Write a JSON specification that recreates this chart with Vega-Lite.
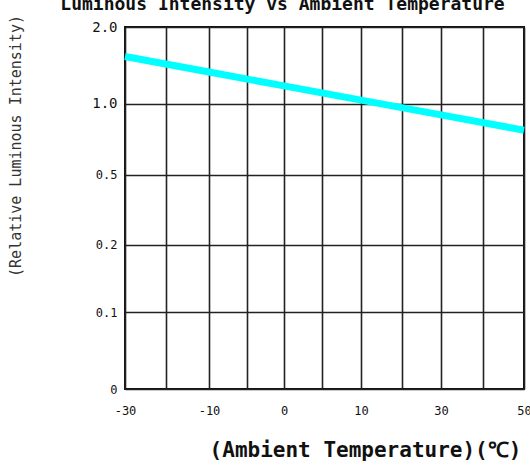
{
  "$schema": "https://vega.github.io/schema/vega-lite/v6.json",
  "autosize": {"type": "none"},
  "padding": {"left": 125, "top": 27, "right": 6, "bottom": 81},
  "width": 399,
  "height": 362,
  "background": "white",
  "title": {
    "text": "Luminous Intensity vs Ambient Temperature",
    "font": "DejaVu Sans Mono",
    "fontSize": 18,
    "fontWeight": "bold",
    "color": "#111",
    "anchor": "middle",
    "frame": "group",
    "baseline": "alphabetic",
    "offset": -13,
    "dx": -42
  },
  "data": {
    "values": [
      {"temp": -30, "intensity": 1.614},
      {"temp": -10, "intensity": 1.412},
      {"temp": 0, "intensity": 1.23},
      {"temp": 10, "intensity": 1.044},
      {"temp": 30, "intensity": 0.92},
      {"temp": 50, "intensity": 0.812}
    ]
  },
  "mark": {"type": "line", "color": "#00FFFF", "strokeWidth": 7, "strokeCap": "butt"},
  "encoding": {
    "x": {
      "field": "temp",
      "type": "quantitative",
      "scale": {
        "domain": [-30, -20, -10, -5, 0, 5, 10, 20, 30, 40, 50],
        "range": [0, 41, 84, 122, 159, 197, 236, 277, 316, 358, 399],
        "nice": false,
        "zero": false
      },
      "axis": {
        "values": [-30, -20, -10, -5, 0, 5, 10, 20, 30, 40, 50],
        "labelExpr": "(datum.value == -30 || datum.value == -10 || datum.value == 0 || datum.value == 10 || datum.value == 30 || datum.value == 50) ? '' + datum.value : ''",
        "labelFont": "DejaVu Sans Mono",
        "labelFontSize": 12,
        "labelColor": "#111",
        "labelPadding": 16,
        "labelOverlap": false,
        "labelBound": false,
        "labelFlush": false,
        "ticks": false,
        "domain": false,
        "grid": true,
        "gridColor": "#222",
        "gridWidth": 1.6,
        "gridOpacity": 1,
        "title": "(Ambient Temperature)(℃)",
        "titleFont": "DejaVu Sans Mono",
        "titleFontSize": 21,
        "titleFontWeight": "bold",
        "titleColor": "#111",
        "titleAlign": "center",
        "titleBaseline": "middle",
        "titleX": 240,
        "titleY": 61
      }
    },
    "y": {
      "field": "intensity",
      "type": "quantitative",
      "scale": {
        "domain": [0, 0.1, 0.2, 0.5, 1, 2],
        "range": [362, 285, 217.5, 147.5, 76.5, 0],
        "nice": false,
        "zero": false
      },
      "axis": {
        "values": [0, 0.1, 0.2, 0.5, 1, 2],
        "labelExpr": "datum.value == 0 ? '0' : format(datum.value, '.1f')",
        "labelFont": "DejaVu Sans Mono",
        "labelFontSize": {"condition": {"test": "datum.value >= 1", "value": 14}, "value": 12},
        "labelColor": "#111",
        "labelPadding": 8,
        "labelOverlap": false,
        "labelBound": false,
        "labelFlush": false,
        "ticks": false,
        "domain": false,
        "grid": true,
        "gridColor": "#222",
        "gridWidth": 1.6,
        "gridOpacity": 1,
        "title": "(Relative Luminous Intensity)",
        "titleFont": "DejaVu Sans Mono",
        "titleFontSize": 15,
        "titleFontWeight": "normal",
        "titleColor": "#333",
        "titleAngle": 270,
        "titleAlign": "center",
        "titleBaseline": "middle",
        "titleX": -110,
        "titleY": 118.5
      }
    }
  },
  "config": {
    "view": {"stroke": "#111", "strokeWidth": 2}
  }
}
